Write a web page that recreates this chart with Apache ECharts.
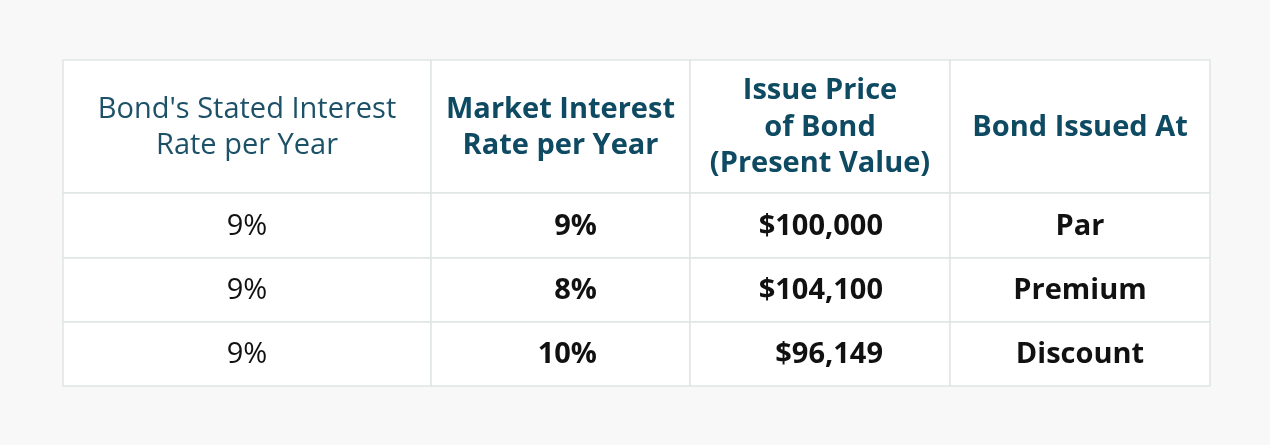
<!DOCTYPE html>
<html>
<head>
<meta charset="UTF-8">
<script src="https://cdn.jsdelivr.net/npm/echarts@6/dist/echarts.min.js"></script>
<style>
  html, body { margin: 0; padding: 0; background: #f8f8f8; }
  #main { width: 1270px; height: 445px; }
</style>
</head>
<body>
<div id="main"></div>
<script>
    var headers = ["Bond's Stated Interest\nRate per Year", "Market Interest\nRate per Year", "Issue Price\nof Bond\n(Present Value)", "Bond Issued At"];
    var statedRate = ['9%', '9%', '9%'];
    var marketRate = ['9%', '8%', '10%'];
    var issuePrice = ['$100,000', '$104,100', '$96,149'];
    var issuedAt = ['Par', 'Premium', 'Discount'];

    // column / row edges in table units
    var colEdges = [0, 368, 627, 887, 1147];
    var rowEdges = [0, 133, 198, 262, 326];

    var cells = [];
    headers.forEach(function (h, c) { cells.push([c, 0, h]); });
    [statedRate, marketRate, issuePrice, issuedAt].forEach(function (col, c) {
        col.forEach(function (v, r) { cells.push([c, r + 1, v]); });
    });

    var chart = echarts.init(document.getElementById('main'));
    chart.setOption({
        backgroundColor: '#f8f8f8',
        grid: { left: 63, right: 60, top: 60, bottom: 59 },
        xAxis: { type: 'value', min: 0, max: 1147, show: false },
        yAxis: { type: 'value', min: 0, max: 326, inverse: true, show: false },
        series: [{
            type: 'custom',
            data: cells,
            renderItem: function (params, api) {
                var c = api.value(0), r = api.value(1);
                var txt = cells[params.dataIndex][2];
                var p0 = api.coord([colEdges[c], rowEdges[r]]);
                var p1 = api.coord([colEdges[c + 1], rowEdges[r + 1]]);
                var header = r === 0;
                var bold = c > 0;
                var align = 'center', tx = (p0[0] + p1[0]) / 2;
                if (!header && c === 1) { align = 'right'; tx = p0[0] + 166; }
                if (!header && c === 2) { align = 'right'; tx = p0[0] + 193; }
                return {
                    type: 'group',
                    children: [{
                        type: 'rect',
                        shape: { x: p0[0], y: p0[1], width: p1[0] - p0[0], height: p1[1] - p0[1] },
                        style: { fill: '#ffffff', stroke: '#dfe5e5', lineWidth: 1.5 }
                    }, {
                        type: 'text',
                        x: tx,
                        y: (p0[1] + p1[1]) / 2 + 1,
                        style: {
                            text: txt,
                            align: align,
                            verticalAlign: 'middle',
                            fontFamily: 'Open Sans',
                            fontSize: 29,
                            lineHeight: header ? 36.5 : 32,
                            fontWeight: bold ? 'bold' : 'normal',
                            fill: header ? (bold ? '#0f4a63' : '#1d5168') : '#111111'
                        }
                    }]
                };
            }
        }]
    });
</script>
</body>
</html>
